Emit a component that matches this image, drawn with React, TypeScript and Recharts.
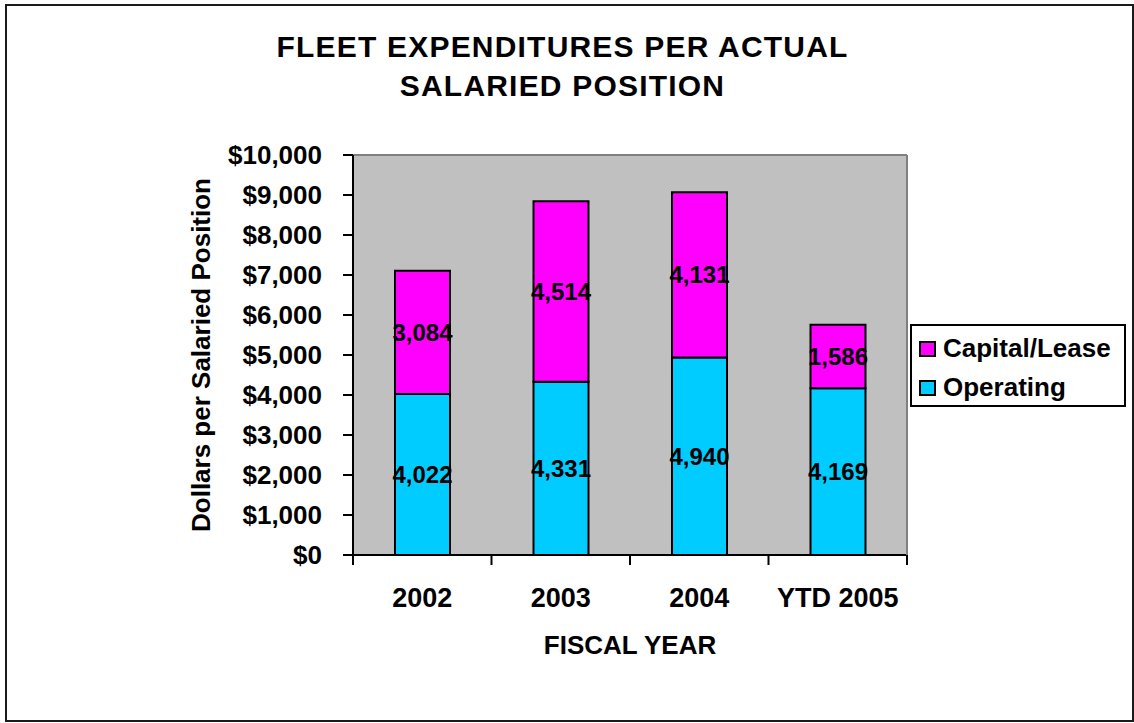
import React from 'react';
import {
  BarChart,
  Bar,
  XAxis,
  YAxis,
  CartesianGrid,
  LabelList,
  Legend,
  ReferenceLine,
} from 'recharts';

const categories = ['2002', '2003', '2004', 'YTD 2005'];
const operating = [4022, 4331, 4940, 4169];
const capitalLease = [3084, 4514, 4131, 1586];
const yTicks = [0, 1000, 2000, 3000, 4000, 5000, 6000, 7000, 8000, 9000, 10000];

const titleLines = ['FLEET EXPENDITURES PER ACTUAL', 'SALARIED POSITION'];
const xTitle = 'FISCAL YEAR';
const yTitle = 'Dollars per Salaried Position';

const data = categories.map((c, i) => ({
  year: c,
  operating: operating[i],
  capital: capitalLease[i],
}));

const FONT = "Arial, 'Liberation Sans', sans-serif";
const fmtNum = (v: any) => Number(v).toLocaleString('en-US');
const fmtDollar = (v: any) => '$' + Number(v).toLocaleString('en-US');

const X_TICK_MARGIN = 33;

const LegendBox = (props: any) => {
  const items = [...(props.payload || [])];
  items.sort((a: any, b: any) =>
    a.value === 'Capital/Lease' ? -1 : b.value === 'Capital/Lease' ? 1 : 0
  );
  return (
    <div
      style={{
        boxSizing: 'border-box',
        width: 216,
        height: 83,
        border: '2px solid #000',
        background: '#fff',
        paddingTop: 3,
        paddingLeft: 7,
        fontFamily: FONT,
      }}
    >
      {items.map((it: any) => (
        <div
          key={it.value}
          style={{ display: 'flex', alignItems: 'center', height: 39 }}
        >
          <div
            style={{
              boxSizing: 'border-box',
              width: 17,
              height: 16,
              border: '2px solid #000',
              background: it.color,
              marginRight: 7,
            }}
          />
          <span
            style={{
              fontSize: 26,
              fontWeight: 'bold',
              color: '#000',
              lineHeight: '39px',
              whiteSpace: 'nowrap',
            }}
          >
            {it.value}
          </span>
        </div>
      ))}
    </div>
  );
};

const CategoryTick = (props: any) => {
  const { x, y, payload, width, visibleTicksCount, index } = props;
  const count = visibleTicksCount || categories.length;
  const half = width / count / 2;
  const axisY = y - X_TICK_MARGIN;
  const isLast = index === count - 1;
  return (
    <g>
      <line
        x1={x - half}
        x2={x - half}
        y1={axisY}
        y2={axisY + 10}
        stroke="#000"
        strokeWidth={2}
      />
      {isLast && (
        <line
          x1={x + half}
          x2={x + half}
          y1={axisY}
          y2={axisY + 10}
          stroke="#000"
          strokeWidth={2}
        />
      )}
      <text
        x={x}
        y={y}
        dy="0.71em"
        textAnchor="middle"
        fontSize={27}
        fontWeight="bold"
        fill="#000"
        fontFamily={FONT}
      >
        {payload.value}
      </text>
    </g>
  );
};

export default function App() {
  return (
    <div
      style={{
        position: 'absolute',
        left: 0,
        top: 0,
        width: 1134,
        height: 723,
        background: '#fff',
        fontFamily: FONT,
      }}
    >
      <div
        style={{
          position: 'absolute',
          left: 5,
          top: 4,
          width: 1129,
          height: 718,
          boxSizing: 'border-box',
          border: '2px solid #1a1a1a',
        }}
      />
      <div
        style={{
          position: 'absolute',
          left: 0,
          top: 0,
        }}
      >
        <BarChart
          width={1134}
          height={723}
          data={data}
          margin={{ top: 155, right: 227, bottom: 108, left: 0 }}
        >
          <CartesianGrid
            fill="#C0C0C0"
            horizontal={false}
            vertical={false}
            stroke="none"
          />
          <XAxis
            dataKey="year"
            height={60}
            axisLine={{ stroke: '#000', strokeWidth: 2 }}
            tickLine={false}
            tickSize={0}
            tickMargin={X_TICK_MARGIN}
            interval={0}
            tick={CategoryTick}
          />
          <YAxis
            width={353}
            domain={[0, 10000]}
            ticks={yTicks}
            interval={0}
            tickFormatter={fmtDollar}
            axisLine={{ stroke: '#000', strokeWidth: 2 }}
            tickLine={{ stroke: '#000', strokeWidth: 2 }}
            tickSize={10}
            tickMargin={21}
            tick={{ fontSize: 26, fontWeight: 'bold', fill: '#000', fontFamily: FONT }}
          />
          <ReferenceLine y={10000} stroke="#808080" strokeWidth={2} />
          <Legend
            layout="vertical"
            align="center"
            verticalAlign="middle"
            content={LegendBox}
            wrapperStyle={{ left: 910, top: 324, width: 216, height: 83 }}
          />
          <Bar
            dataKey="operating"
            name="Operating"
            stackId="a"
            fill="#00CCFF"
            stroke="#000"
            strokeWidth={2}
            barSize={55}
            isAnimationActive={false}
          >
            <LabelList
              dataKey="operating"
              position="center"
              formatter={fmtNum}
              fill="#000"
              fontSize={24}
              fontWeight="bold"
              fontFamily={FONT}
            />
          </Bar>
          <Bar
            dataKey="capital"
            name="Capital/Lease"
            stackId="a"
            fill="#FF00FF"
            stroke="#000"
            strokeWidth={2}
            barSize={55}
            isAnimationActive={false}
          >
            <LabelList
              dataKey="capital"
              position="center"
              formatter={fmtNum}
              fill="#000"
              fontSize={24}
              fontWeight="bold"
              fontFamily={FONT}
            />
          </Bar>
        </BarChart>
      </div>
      <div
        style={{
          position: 'absolute',
          left: 906,
          top: 155,
          width: 2,
          height: 400,
          background: '#808080',
        }}
      />
      <div
        style={{
          position: 'absolute',
          left: 0,
          top: 27,
          width: 1125,
          textAlign: 'center',
          fontSize: 30,
          letterSpacing: '1.2px',
          lineHeight: '39px',
          fontWeight: 'bold',
          color: '#000',
        }}
      >
        {titleLines.map((l) => (
          <div key={l}>{l}</div>
        ))}
      </div>
      <div
        style={{
          position: 'absolute',
          left: 430,
          top: 632,
          width: 400,
          textAlign: 'center',
          fontSize: 26,
          lineHeight: '26px',
          fontWeight: 'bold',
          color: '#000',
        }}
      >
        {xTitle}
      </div>
      <div
        style={{
          position: 'absolute',
          left: 201 - 250,
          top: 355 - 15,
          width: 500,
          height: 30,
          textAlign: 'center',
          fontSize: 26,
          lineHeight: '30px',
          fontWeight: 'bold',
          color: '#000',
          transform: 'rotate(-90deg)',
          transformOrigin: '50% 50%',
          whiteSpace: 'nowrap',
        }}
      >
        {yTitle}
      </div>
    </div>
  );
}
